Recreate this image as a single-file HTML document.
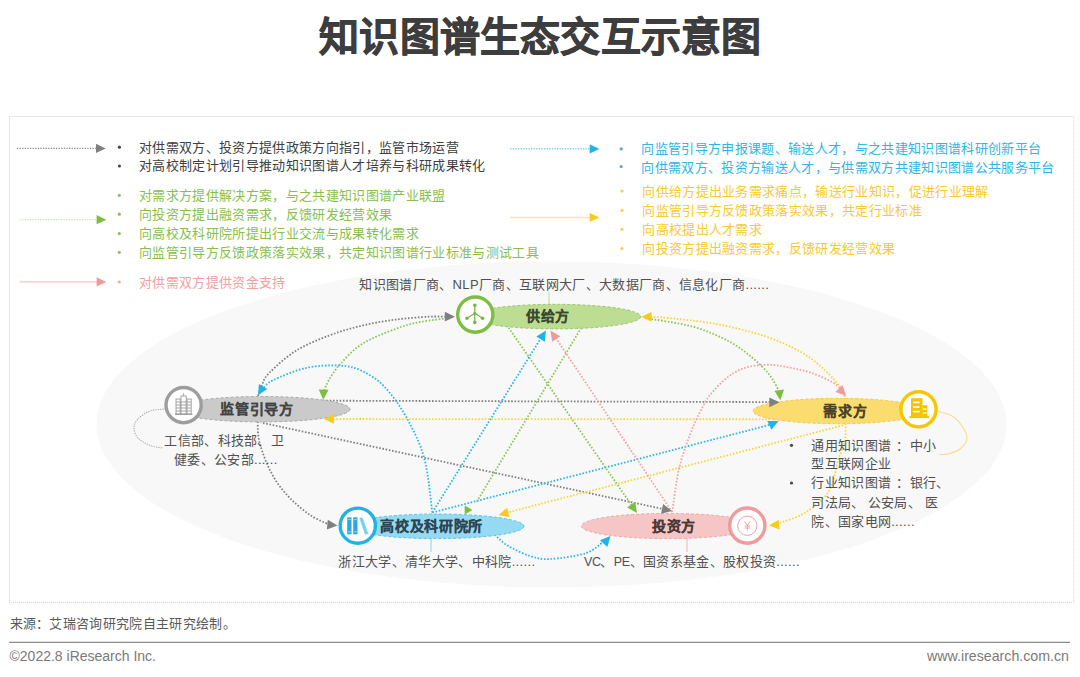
<!DOCTYPE html>
<html lang="zh-CN"><head><meta charset="utf-8">
<style>
html,body{margin:0;padding:0;background:#fff;}
body{width:1080px;height:677px;overflow:hidden;position:relative;font-family:"Liberation Sans",sans-serif;}
.t{position:absolute;white-space:nowrap;line-height:1;}
.b{font-weight:bold;}
</style></head><body>
<svg width="1080" height="677" viewBox="0 0 1080 677" style="position:absolute;left:0;top:0">
<rect x="9.5" y="116.5" width="1064.3" height="485.8" fill="none" stroke="#cfcfcf" stroke-width="1" stroke-dasharray="1 1"/>
<ellipse cx="551.5" cy="424.4" rx="455" ry="163" fill="#f8f8f8"/>
<line x1="17" y1="148.4" x2="97" y2="148.4" stroke="#8a8a8a" stroke-width="1.3" stroke-dasharray="1.3 1.3"/><polygon points="105.7,148.4 96.0,153.0 96.0,143.8" fill="#7f7f7f"/><line x1="19.4" y1="219.7" x2="98" y2="219.7" stroke="#cfe5b5" stroke-width="1.3" stroke-dasharray="1.3 1.3"/><polygon points="106.3,219.7 96.6,224.3 96.6,215.1" fill="#7dbd42"/><line x1="19.4" y1="281.9" x2="98" y2="281.9" stroke="#f6c6c6" stroke-width="1.3" /><polygon points="106.3,281.9 96.6,286.5 96.6,277.3" fill="#f19a9a"/><line x1="510.2" y1="148.9" x2="591" y2="148.9" stroke="#5cc8ee" stroke-width="1.3" stroke-dasharray="1.3 1.3"/><polygon points="599.4,148.9 589.7,153.5 589.7,144.3" fill="#1fb3e6"/><line x1="510.2" y1="217.5" x2="591" y2="217.5" stroke="#fbe6a2" stroke-width="1.3" /><polygon points="599.4,217.5 589.7,222.1 589.7,212.9" fill="#f6cb1c"/>
<circle cx="119.4" cy="147.2" r="1.6" fill="#484848"/><circle cx="119.4" cy="166" r="1.6" fill="#484848"/><circle cx="119.3" cy="195.3" r="1.6" fill="#8fbf62"/><circle cx="119.3" cy="214.2" r="1.6" fill="#8fbf62"/><circle cx="119.3" cy="233.6" r="1.6" fill="#8fbf62"/><circle cx="119.3" cy="252.3" r="1.6" fill="#8fbf62"/><circle cx="119.3" cy="282" r="1.6" fill="#f0a8a8"/><circle cx="621.2" cy="148.9" r="1.6" fill="#5fa9c4"/><circle cx="621.2" cy="166.6" r="1.6" fill="#5fa9c4"/><circle cx="622" cy="191" r="1.6" fill="#f6cf55"/><circle cx="622" cy="210.4" r="1.6" fill="#f6cf55"/><circle cx="622" cy="229.3" r="1.6" fill="#f6cf55"/><circle cx="622" cy="248.5" r="1.6" fill="#f6cf55"/><circle cx="791.5" cy="445.3" r="1.6" fill="#484848"/><circle cx="791.5" cy="483" r="1.6" fill="#484848"/>
<line x1="549" y1="292" x2="549" y2="305" stroke="#b9d99a" stroke-width="1"/><line x1="431" y1="538" x2="431" y2="552" stroke="#8fd3ef" stroke-width="1"/><line x1="687" y1="538" x2="687" y2="552" stroke="#f3b5b5" stroke-width="1"/><path d="M166.0,409.0 C163.3,409.3 154.7,409.3 150.0,411.0 C145.3,412.7 140.7,416.2 138.0,419.0 C135.3,421.8 134.0,424.8 134.0,428.0 C134.0,431.2 135.3,435.1 138.0,438.0 C140.7,440.9 145.8,443.7 150.0,445.4 C154.2,447.1 160.8,447.6 163.0,448.0" fill="none" stroke="#a8a8a8" stroke-width="1.1" stroke-dasharray="1.2 1.2"/><path d="M937.0,411.0 C939.5,411.8 947.8,413.5 952.0,416.0 C956.2,418.5 959.5,422.2 962.0,426.0 C964.5,429.8 967.3,434.7 967.0,438.5 C966.7,442.3 963.2,446.4 960.0,449.0 C956.8,451.6 951.5,453.1 948.0,454.0 C944.5,454.9 940.5,454.3 939.0,454.4" fill="none" stroke="#f5de8a" stroke-width="1.1"/>
<path d="M258.0,396.0 C258.7,394.2 260.2,388.8 262.0,385.0 C263.8,381.2 263.3,379.0 268.9,373.3 C274.5,367.6 285.6,357.3 295.6,351.0 C305.6,344.7 317.8,339.8 328.9,335.6 C340.0,331.4 350.9,328.3 362.0,325.6 C373.1,322.9 384.5,321.1 395.6,319.6 C406.8,318.1 420.5,317.2 428.9,316.7 C437.3,316.2 443.1,316.7 446.0,316.7" fill="none" stroke="#808080" stroke-width="1.8" stroke-dasharray="1.6 1.7"/><path d="M300,400.6 L770,402.1" fill="none" stroke="#808080" stroke-width="1.8" stroke-dasharray="1.6 1.7"/><path d="M263,423 L663,509" fill="none" stroke="#808080" stroke-width="1.8" stroke-dasharray="1.6 1.7"/><path d="M257.5,415.0 C257.6,418.6 257.6,430.4 258.4,436.3 C259.1,442.2 260.2,445.2 262.0,450.5 C263.8,455.8 266.1,462.3 269.0,468.2 C271.9,474.1 275.5,480.4 279.6,486.0 C283.7,491.6 288.5,496.9 293.8,501.9 C299.1,506.9 305.7,512.2 311.6,516.0 C317.5,519.8 326.1,523.1 329.0,524.5" fill="none" stroke="#808080" stroke-width="1.8" stroke-dasharray="1.6 1.7"/><path d="M432.3,512.5 C431.0,503.5 428.6,474.3 424.3,458.5 C420.0,442.7 413.2,429.7 406.6,417.7 C400.0,405.7 391.8,394.5 384.4,386.7 C377.0,378.9 369.4,374.5 362.0,371.0 C354.6,367.5 349.2,366.1 340.0,365.6 C330.8,365.1 317.8,365.4 306.7,367.8 C295.6,370.2 280.6,376.6 273.3,380.0 C266.0,383.4 264.7,387.1 263.0,388.5" fill="none" stroke="#2bb6e8" stroke-width="1.8" stroke-dasharray="1.6 1.7"/><path d="M432.3,512.5 L541,338" fill="none" stroke="#2bb6e8" stroke-width="1.8" stroke-dasharray="1.6 1.7"/><path d="M432.3,512.5 L771,424.5" fill="none" stroke="#2bb6e8" stroke-width="1.8" stroke-dasharray="1.6 1.7"/><path d="M490.0,530.0 C491.2,531.1 493.9,534.2 497.0,536.9 C500.1,539.6 502.8,542.8 508.3,546.0 C513.8,549.2 523.0,553.8 530.0,556.0 C537.0,558.2 540.7,559.5 550.0,559.0 C559.3,558.5 576.8,556.1 585.6,553.3 C594.4,550.5 600.1,543.9 603.0,542.0" fill="none" stroke="#2bb6e8" stroke-width="1.8" stroke-dasharray="1.6 1.7"/><path d="M450.0,318.0 C445.0,318.7 429.1,320.2 420.0,322.0 C410.9,323.8 405.3,325.2 395.6,328.9 C385.9,332.6 371.3,338.1 362.0,344.0 C352.7,349.9 345.5,358.4 340.0,364.4 C334.5,370.4 331.6,375.6 328.9,380.0 C326.2,384.4 324.8,389.2 324.0,391.0" fill="none" stroke="#8dc455" stroke-width="1.8" stroke-dasharray="1.6 1.7"/><path d="M645.0,318.0 C652.9,319.4 678.3,322.7 692.2,326.5 C706.1,330.3 718.3,335.8 728.3,341.0 C738.3,346.2 745.6,352.2 752.4,357.8 C759.2,363.4 764.9,369.2 769.3,374.6 C773.6,380.0 777.0,387.4 778.5,390.0" fill="none" stroke="#8dc455" stroke-width="1.8" stroke-dasharray="1.6 1.7"/><path d="M506.7,325 L631.5,505" fill="none" stroke="#8dc455" stroke-width="1.8" stroke-dasharray="1.6 1.7"/><path d="M583,325 L476,503" fill="none" stroke="#8dc455" stroke-width="1.8" stroke-dasharray="1.6 1.7"/><path d="M845.0,400.0 C844.4,398.2 844.9,394.0 841.5,389.0 C838.1,384.0 831.4,376.0 824.6,369.8 C817.8,363.6 810.5,357.4 800.5,351.8 C790.5,346.2 778.4,340.6 764.4,336.0 C750.4,331.4 732.4,327.0 716.3,324.0 C700.2,321.0 679.0,319.2 668.0,318.0 C657.0,316.8 653.0,317.2 650.0,317.0" fill="none" stroke="#f7d53c" stroke-width="1.8" stroke-dasharray="1.6 1.7"/><path d="M790,419.3 L333,419" fill="none" stroke="#f7d53c" stroke-width="1.8" stroke-dasharray="1.6 1.7"/><path d="M843,425.3 L507,512.6" fill="none" stroke="#f7d53c" stroke-width="1.8" stroke-dasharray="1.6 1.7"/><path d="M845.5,420.0 C845.4,423.3 846.2,433.3 845.0,440.0 C843.8,446.7 841.0,451.4 838.3,460.0 C835.6,468.6 834.3,482.7 828.7,491.5 C823.1,500.3 813.1,507.7 804.6,513.0 C796.1,518.3 782.4,521.8 778.0,523.5" fill="none" stroke="#f7d53c" stroke-width="1.8" stroke-dasharray="1.6 1.7"/><path d="M672.2,512 L555.5,337.5" fill="none" stroke="#f3a3a3" stroke-width="1.8" stroke-dasharray="1.6 1.7"/><path d="M672.2,512.0 C673.4,504.6 676.0,481.3 679.4,467.4 C682.8,453.5 688.1,439.5 692.4,428.6 C696.7,417.7 701.8,408.4 705.4,402.0 C709.0,395.6 711.0,393.9 714.3,390.2 C717.5,386.4 721.3,382.6 724.9,379.5 C728.5,376.4 731.4,374.1 735.6,371.9 C739.8,369.7 744.1,367.6 750.0,366.4 C755.9,365.2 763.8,364.6 770.7,364.8 C777.6,365.1 784.5,366.5 791.4,367.9 C798.3,369.3 805.1,370.7 812.0,373.1 C818.9,375.5 828.0,379.8 832.7,382.4 C837.4,385.0 838.8,387.5 840.0,388.5" fill="none" stroke="#f3a3a3" stroke-width="1.8" stroke-dasharray="1.6 1.7"/>
<ellipse cx="555.5" cy="316.6" rx="85.3" ry="12.3" fill="#bcdd92" stroke="#9cc46e" stroke-width="1" stroke-dasharray="3 2"/><circle cx="475.3" cy="314.6" r="17.6" fill="#fff" stroke="#7dbd42" stroke-width="3.4"/><g stroke="#78b545" stroke-width="1.3" fill="#78b545"><line x1="474.8" y1="305.2" x2="474.8" y2="322.4"/><line x1="474.8" y1="313.2" x2="467" y2="318.2"/><line x1="474.8" y1="313.2" x2="482.6" y2="318.2"/><circle cx="474.8" cy="305.2" r="1.8" stroke="none"/><circle cx="467" cy="318.2" r="1.8" stroke="none"/><circle cx="482.6" cy="318.2" r="1.8" stroke="none"/><circle cx="474.8" cy="322.4" r="1.8" stroke="none"/><circle cx="474.8" cy="313.2" r="1.5" stroke="none"/></g><ellipse cx="262" cy="409.2" rx="88" ry="12.7" fill="#cacaca" stroke="#a9a9a9" stroke-width="1" stroke-dasharray="3 2"/><circle cx="183.6" cy="405.1" r="17.6" fill="#fff" stroke="#9d9d9d" stroke-width="3.4"/><g fill="none" stroke="#9a9a9a" stroke-width="0.9"><rect x="176" y="399" width="4.2" height="15"/><rect x="181" y="396" width="5.2" height="18"/><rect x="187" y="399" width="4.2" height="15"/><line x1="176" y1="402" x2="191" y2="402"/><line x1="176" y1="405" x2="191" y2="405"/><line x1="176" y1="408" x2="191" y2="408"/><line x1="176" y1="411" x2="191" y2="411"/><line x1="175" y1="414.3" x2="192.5" y2="414.3" stroke-width="1.2"/><line x1="183.6" y1="393.3" x2="183.6" y2="396"/></g><ellipse cx="838" cy="411" rx="85" ry="12.7" fill="#fbdc6e" stroke="#f1c94c" stroke-width="1" stroke-dasharray="3 2"/><circle cx="918.5" cy="409.3" r="17.6" fill="#fff" stroke="#f6c700" stroke-width="3.4"/><g fill="#f5c400"><rect x="911" y="398.2" width="11.5" height="18.8"/><rect x="922.3" y="405.2" width="5" height="11.8"/><rect x="909.2" y="416.2" width="19.9" height="1.9"/><g fill="#fff"><rect x="913.2" y="401.6" width="6.4" height="1.6"/><rect x="913.2" y="406.2" width="6.4" height="1.6"/><rect x="913.2" y="410.8" width="6.4" height="1.6"/><rect x="923.2" y="408.4" width="3.2" height="1.4"/><rect x="923.2" y="412.3" width="3.2" height="1.4"/></g></g><ellipse cx="437" cy="526.3" rx="87" ry="12.3" fill="#93daf2" stroke="#5dc3ea" stroke-width="1" stroke-dasharray="3 2"/><circle cx="357.8" cy="525.7" r="17.6" fill="#fff" stroke="#20b3e3" stroke-width="3.4"/><g><rect x="347.2" y="517.3" width="4.3" height="17" fill="#2aa8df"/><rect x="353.2" y="517.3" width="4.3" height="17" fill="#2aa8df"/><polygon points="359.2,517.8 362.6,517.4 368.6,534.1 364.9,534.5" fill="#86d5f2"/><line x1="361" y1="517.8" x2="366.6" y2="534.2" stroke="#5cc3ea" stroke-width="0.6"/><g fill="#9fe0f6"><rect x="347.8" y="519.2" width="3.1" height="0.9"/><rect x="353.8" y="519.2" width="3.1" height="0.9"/><rect x="347.8" y="531.4" width="3.1" height="0.9"/><rect x="353.8" y="531.4" width="3.1" height="0.9"/></g></g><ellipse cx="668" cy="526" rx="86.5" ry="12.6" fill="#f6c6c6" stroke="#eda6a6" stroke-width="1" stroke-dasharray="3 2"/><circle cx="747.3" cy="525.6" r="17.6" fill="#fff" stroke="#ef9b9b" stroke-width="3.4"/><g fill="none" stroke="#eea3a3" stroke-width="1"><circle cx="747.3" cy="525.8" r="9.6"/><path d="M744.3,521.3 L747.3,525.4 L750.3,521.3 M747.3,525.4 L747.3,530.5 M744.6,526 L750,526 M744.6,528 L750,528"/></g>
<polygon points="455.0,316.7 444.8,321.6 444.8,311.8" fill="#7f7f7f"/><polygon points="779.5,402.3 769.3,407.2 769.3,397.4" fill="#7f7f7f"/><polygon points="672.0,511.0 661.0,513.7 663.1,504.1" fill="#7f7f7f"/><polygon points="337.5,525.6 326.9,529.6 327.8,519.8" fill="#7f7f7f"/><polygon points="258.0,395.3 258.9,384.0 267.3,388.9" fill="#1fb3e6"/><polygon points="546.0,330.5 544.8,341.7 536.4,336.6" fill="#1fb3e6"/><polygon points="778.6,421.0 771.4,429.8 767.3,420.9" fill="#1fb3e6"/><polygon points="610.5,536.0 607.3,546.9 600.0,540.3" fill="#1fb3e6"/><polygon points="323.3,399.8 318.8,389.4 328.6,389.8" fill="#7dbd42"/><polygon points="780.3,400.3 774.4,390.7 784.1,389.6" fill="#7dbd42"/><polygon points="637.0,513.0 627.1,507.5 635.2,501.8" fill="#7dbd42"/><polygon points="472.4,510 464.7,505.6 464.7,514.4" fill="#7dbd42"/><polygon points="641.3,316.8 651.5,311.9 651.5,321.7" fill="#f6cb1c"/><polygon points="323.7,418.8 333.9,413.9 333.9,423.7" fill="#f6cb1c"/><polygon points="498.5,515.0 507.1,507.7 509.6,517.2" fill="#f6cb1c"/><polygon points="769.0,525.5 778.7,519.7 779.6,529.5" fill="#f6cb1c"/><polygon points="550.5,330.5 560.3,336.2 552.1,341.7" fill="#f19a9a"/><polygon points="846.2,395.8 835.5,392.1 842.5,385.1" fill="#f19a9a"/>
<line x1="9" y1="642.3" x2="1070" y2="642.3" stroke="#8c8c8c" stroke-width="1.3"/>
</svg>
<div class="t" style="left:319.3px;top:17.2px;font-size:40px;color:#3d3d3d;letter-spacing:0.2px;font-weight:bold;-webkit-text-stroke:0.8px #3d3d3d;">知识图谱生态交互示意图</div>
<div class="t" style="left:139.0px;top:140.7px;font-size:13px;color:#404040;letter-spacing:0.33px;">对供需双方、投资方提供政策方向指引，监管市场运营</div>
<div class="t" style="left:139.0px;top:158.7px;font-size:13px;color:#404040;letter-spacing:0.33px;">对高校制定计划引导推动知识图谱人才培养与科研成果转化</div>
<div class="t" style="left:139.0px;top:189.2px;font-size:13px;color:#86bf4e;letter-spacing:0.33px;">对需求方提供解决方案，与之共建知识图谱产业联盟</div>
<div class="t" style="left:139.0px;top:208.0px;font-size:13px;color:#86bf4e;letter-spacing:0.33px;">向投资方提出融资需求，反馈研发经营效果</div>
<div class="t" style="left:139.0px;top:227.1px;font-size:13px;color:#86bf4e;letter-spacing:0.33px;">向高校及科研院所提出行业交流与成果转化需求</div>
<div class="t" style="left:139.0px;top:246.1px;font-size:13px;color:#86bf4e;letter-spacing:0.33px;">向监管引导方反馈政策落实效果，共定知识图谱行业标准与测试工具</div>
<div class="t" style="left:139.0px;top:276.0px;font-size:13px;color:#f2a0a0;letter-spacing:0.33px;">对供需双方提供资金支持</div>
<div class="t" style="left:641.3px;top:141.9px;font-size:13px;color:#2fb5e6;letter-spacing:0.33px;">向监管引导方申报课题、输送人才，与之共建知识图谱科研创新平台</div>
<div class="t" style="left:641.3px;top:160.5px;font-size:13px;color:#2fb5e6;letter-spacing:0.33px;">向供需双方、投资方输送人才，与供需双方共建知识图谱公共服务平台</div>
<div class="t" style="left:642.2px;top:185.2px;font-size:13px;color:#f9c92e;letter-spacing:0.33px;">向供给方提出业务需求痛点，输送行业知识，促进行业理解</div>
<div class="t" style="left:642.2px;top:204.0px;font-size:13px;color:#f9c92e;letter-spacing:0.33px;">向监管引导方反馈政策落实效果，共定行业标准</div>
<div class="t" style="left:642.2px;top:223.4px;font-size:13px;color:#f9c92e;letter-spacing:0.33px;">向高校提出人才需求</div>
<div class="t" style="left:642.2px;top:242.1px;font-size:13px;color:#f9c92e;letter-spacing:0.33px;">向投资方提出融资需求，反馈研发经营效果</div>
<div class="t" style="left:359.3px;top:278.2px;font-size:13px;color:#505050;letter-spacing:0.33px;">知识图谱厂商、NLP厂商、互联网大厂、大数据厂商、信息化厂商......</div>
<div class="t" style="left:164.2px;top:434.0px;font-size:13px;color:#505050;letter-spacing:0.33px;">工信部、科技部、卫</div>
<div class="t" style="left:174.0px;top:452.9px;font-size:13px;color:#505050;letter-spacing:0.33px;">健委、公安部......</div>
<div class="t" style="left:338.4px;top:554.6px;font-size:13px;color:#505050;letter-spacing:0.33px;">浙江大学、清华大学、中科院......</div>
<div class="t" style="left:584.0px;top:554.6px;font-size:13px;color:#505050;letter-spacing:0.33px;"><span style="font-size:12.5px;letter-spacing:-0.45px">VC</span>、<span style="font-size:12.5px;letter-spacing:-0.45px">PE</span>、国资系基金、股权投资......</div>
<div class="t" style="left:811.2px;top:439.4px;font-size:13px;color:#505050;letter-spacing:0.33px;">通用知识图谱<span style="position:relative;left:4.5px">：</span><span style="margin-left:5.5px">中小</span></div>
<div class="t" style="left:811.2px;top:457.0px;font-size:13px;color:#505050;letter-spacing:0.33px;">型互联网企业</div>
<div class="t" style="left:811.2px;top:476.2px;font-size:13px;color:#505050;letter-spacing:0.33px;">行业知识图谱<span style="position:relative;left:4.5px">：</span><span style="margin-left:5px">银行、</span></div>
<div class="t" style="left:811.2px;top:495.7px;font-size:13px;color:#505050;letter-spacing:0.33px;">司法局、<span style="margin-left:3.3px">公安局、</span><span style="margin-left:3.4px">医</span></div>
<div class="t" style="left:811.2px;top:514.9px;font-size:13px;color:#505050;letter-spacing:0.33px;">院、国家电网......</div>
<div class="t" style="left:347.88px;width:400px;text-align:center;top:309.4px;font-size:14px;letter-spacing:0.67px;font-weight:bold;color:#3b4830;-webkit-text-stroke:0.15px #3b4830">供给方</div>
<div class="t" style="left:57.13px;width:400px;text-align:center;top:401.8px;font-size:14px;letter-spacing:0.67px;font-weight:bold;color:#444444;-webkit-text-stroke:0.15px #444444">监管引导方</div>
<div class="t" style="left:645.28px;width:400px;text-align:center;top:404.1px;font-size:14px;letter-spacing:0.67px;font-weight:bold;color:#4a4229;-webkit-text-stroke:0.15px #4a4229">需求方</div>
<div class="t" style="left:231.63px;width:400px;text-align:center;top:518.8px;font-size:14px;letter-spacing:0.67px;font-weight:bold;color:#2f4350;-webkit-text-stroke:0.15px #2f4350">高校及科研院所</div>
<div class="t" style="left:474.18px;width:400px;text-align:center;top:518.5px;font-size:14px;letter-spacing:0.67px;font-weight:bold;color:#4a3838;-webkit-text-stroke:0.15px #4a3838">投资方</div>
<div class="t" style="left:9.5px;top:616.8px;font-size:13px;color:#595959;letter-spacing:0.33px;">来源：艾瑞咨询研究院自主研究绘制。</div>
<div class="t" style="left:9.5px;top:648.5px;font-size:14px;color:#7a7a7a">©2022.8 iResearch Inc.</div>
<div class="t" style="right:11px;top:648.5px;font-size:14.2px;color:#7a7a7a">www.iresearch.com.cn</div>
</body></html>
